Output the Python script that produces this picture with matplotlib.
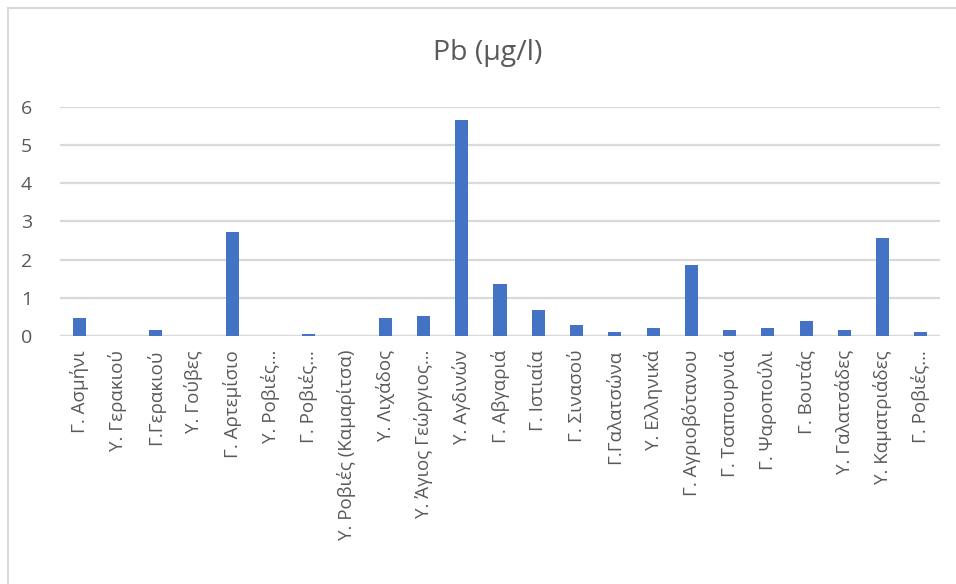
import matplotlib
matplotlib.use("Agg")
import matplotlib.pyplot as plt
from matplotlib.lines import Line2D

plt.rcParams['font.family'] = ['Open Sans', 'DejaVu Sans']

stations = [
    "Γ. Ασμήνι", "Υ. Γερακιού", "Γ.Γερακιού", "Υ. Γούβες", "Γ. Αρτεμίσιο",
    "Υ. Ροβιές…", "Γ. Ροβιές…", "Υ. Ροβιές (Καμαρίτσα)", "Υ. Λιχάδος",
    "Υ. Άγιος Γεώργιος…", "Υ. Αγδινών", "Γ. Αβγαριά", "Γ. Ιστιαία",
    "Γ. Σινασού", "Γ.Γαλατσώνα", "Υ. Ελληνικά", "Γ. Αγριοβότανου",
    "Γ. Τσαπουρνιά", "Γ. Ψαροπούλι", "Γ. Βουτάς", "Υ. Γαλατσάδες",
    "Υ. Καματριάδες", "Γ. Ροβιές…",
]
pb_values = [
    0.48, 0.0, 0.16, 0.0, 2.73,
    0.0, 0.04, 0.0, 0.48,
    0.52, 5.65, 1.35, 0.68,
    0.28, 0.11, 0.22, 1.87,
    0.17, 0.22, 0.38, 0.15,
    2.57, 0.11,
]
y_ticks = [0, 1, 2, 3, 4, 5, 6]

text_color = "#595959"
grid_color = "#d9d9d9"
bar_color = "#4472C4"

fig = plt.figure(figsize=(9.56, 5.84), dpi=100)
ax = fig.add_axes([60 / 956, 1 - 336 / 584, 880 / 956, (336 - 106.7) / 584])

x = list(range(len(stations)))
ax.bar(x, pb_values, width=0.34, color=bar_color, zorder=3)

ax.set_xlim(-0.5, len(stations) - 0.5)
ax.set_ylim(0, 6)
ax.set_yticks(y_ticks)
ax.set_yticklabels([str(t) for t in y_ticks])
ax.set_xticks(x)
ax.set_xticklabels(stations, rotation=90, ha="center", va="top")

ax.yaxis.grid(True, color=grid_color, linewidth=1.6, zorder=0)
ax.set_axisbelow(True)
for side in ["top", "right", "left", "bottom"]:
    ax.spines[side].set_visible(False)
ax.axhline(0, color=grid_color, linewidth=1.6, zorder=1)

ax.tick_params(axis="both", length=0, colors=text_color)
ax.tick_params(axis="y", labelsize=14, pad=20)
ax.tick_params(axis="x", labelsize=13.5, pad=10)

fig.text(488 / 956, 1 - 53 / 584, "Pb (μg/l)", ha="center", va="center",
         fontsize=20.5, color=text_color)

# outer chart frame
fig.add_artist(Line2D([8 / 956, 8 / 956], [0, 1 - 8 / 584],
                      transform=fig.transFigure, color="#d9d9d9", linewidth=1.5))
fig.add_artist(Line2D([8 / 956, 1], [1 - 8 / 584, 1 - 8 / 584],
                      transform=fig.transFigure, color="#d9d9d9", linewidth=1.5))

fig.savefig("out.png", dpi=100, facecolor="white")
